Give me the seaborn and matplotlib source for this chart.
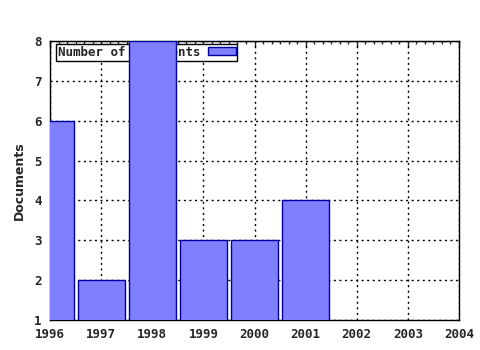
import matplotlib
matplotlib.use("Agg")
import matplotlib.pyplot as plt
import seaborn as sns
import pandas as pd
from matplotlib.ticker import MultipleLocator, NullFormatter

years = [1996, 1997, 1998, 1999, 2000, 2001]
documents = [6, 2, 8, 3, 3, 4]
xticks = [1996, 1997, 1998, 1999, 2000, 2001, 2002, 2003, 2004]
yticks = [1, 2, 3, 4, 5, 6, 7, 8]

sns.set_style("white")
plt.rcParams['font.family'] = ['DejaVu Sans Mono', 'DejaVu Sans']

df = pd.DataFrame({"year": years, "docs": documents})
fig = plt.figure(figsize=(4.8, 3.5), dpi=100)
ax = fig.add_axes([50/480, 30/350, 409/480, 279/350])

sns.barplot(data=df, x="year", y="docs", native_scale=True, width=0.92,
            color="#8080ff", saturation=1, edgecolor="#0000a0", linewidth=1,
            label="Number of documents", ax=ax, zorder=3)

ax.set_xlim(1996, 2004)
ax.set_ylim(1, 8)
ax.set_xticks(xticks)
ax.set_yticks(yticks)
ax.xaxis.set_minor_locator(MultipleLocator(0.5))
ax.set_xticklabels([str(x) for x in xticks], fontsize=9, fontweight="bold")
ax.set_yticklabels([str(y) for y in yticks], fontsize=9, fontweight="bold")
ax.tick_params(axis="both", which="major", length=4, width=1, color="black", direction="out", pad=2)
ax.tick_params(axis="x", which="minor", length=3, width=1, color="black", direction="out")
ax.set_xlabel("")
ax.set_ylabel("Documents", fontsize=9, fontweight="bold", family="DejaVu Sans", labelpad=6)
ax.grid(True, which="major", color="black", linestyle=(0, (1.5, 2.5)), linewidth=1)
ax.set_axisbelow(True)
for s in ax.spines.values():
    s.set_color("black")
    s.set_linewidth(1)

top = ax.secondary_xaxis("top")
top.set_xticks(xticks)
top.xaxis.set_minor_locator(MultipleLocator(1/6))
top.xaxis.set_major_formatter(NullFormatter())
top.tick_params(which="major", direction="in", length=4, width=1)
top.tick_params(which="minor", direction="in", length=2, width=1)

leg = ax.legend(loc="upper left", bbox_to_anchor=(0.015, 0.99), fontsize=9,
                frameon=True, fancybox=False, edgecolor="black", framealpha=1,
                borderpad=0.15, handlelength=2.2, handleheight=0.6, borderaxespad=0,
                prop={"family": "DejaVu Sans Mono", "weight": "bold", "size": 9},
                markerfirst=False, handletextpad=0.6)
leg.get_frame().set_linewidth(1)
leg.set_zorder(2)

fig.savefig("out.png", dpi=100)
